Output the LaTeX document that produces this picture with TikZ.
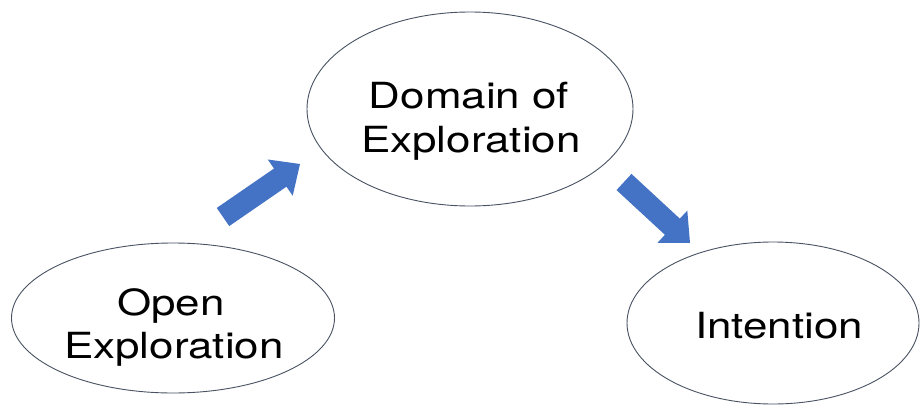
\documentclass[tikz,border=0pt]{standalone}
\usepackage{fontspec}
\setmainfont{TeX Gyre Heros}
\newfontfamily\widesans[FakeStretch=1.22]{TeX Gyre Heros}
\usetikzlibrary{calc,shapes.geometric}
\definecolor{outline}{RGB}{72,82,98}
\definecolor{arrowblue}{RGB}{68,114,196}
\tikzset{
  bubble/.style={ellipse, draw=outline, line width=0.9pt, fill=white, inner sep=0pt},
  label/.style={anchor=base, font=\widesans\fontsize{36}{44}\selectfont, text=black, inner sep=0pt},
}
% filled block arrow from a tail point to a tip point
\newcommand\blockarrow[2]{%
  \fill[arrowblue]
    ($(#1)!11pt!-90:(#2)$) --
    ($($(#2)!24pt!(#1)$)!11pt!-90:(#2)$) --
    ($($(#2)!24pt!(#1)$)!22pt!-90:(#2)$) --
    (#2) --
    ($($(#2)!24pt!(#1)$)!22pt!90:(#2)$) --
    ($($(#2)!24pt!(#1)$)!11pt!90:(#2)$) --
    ($(#1)!11pt!90:(#2)$) -- cycle;}
\begin{document}
\begin{tikzpicture}[x=1pt,y=-1pt]
  \useasboundingbox[fill=white] (0,0) rectangle (921,407);

  \node[bubble, minimum width=323pt, minimum height=150pt] (open) at (173,318) {};
  \node[bubble, minimum width=326pt, minimum height=194pt] (domain) at (470,109) {};
  \node[bubble, minimum width=292pt, minimum height=162pt] (intent) at (773,323) {};

  \node[label] (openA) at (171,315) {Open};
  \node[label] (openB) at (174,358) {Exploration};
  \node[label] (domainA) at (469,108) {Domain of};
  \node[label] (domainB) at (471,152) {Exploration};
  \node[label] (intentA) at (779,338) {Intention};

  \coordinate (a1tail) at (223,217);
  \coordinate (a1tip) at (300,164);
  \coordinate (a2tail) at (624,182);
  \coordinate (a2tip) at (690,243);
  \blockarrow{a1tail}{a1tip}
  \blockarrow{a2tail}{a2tip}
\end{tikzpicture}
\end{document}
